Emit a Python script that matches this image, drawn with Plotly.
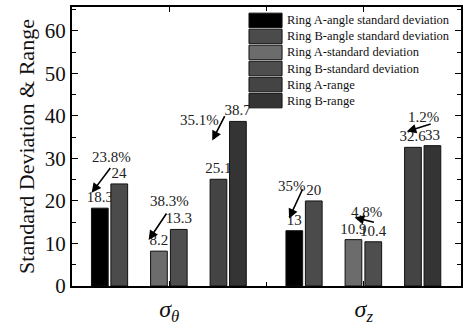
import plotly.graph_objects as go

# Categories (numeric positions 0 and 1 on the x axis) and their tick labels
categories = [0, 1]
tick_labels = ["<i>σ</i><sub><i>θ</i></sub>", "<i>σ</i><sub><i>z</i></sub>"]

series_names = [
    "Ring A-angle standard deviation",
    "Ring B-angle standard deviation",
    "Ring A-standard deviation",
    "Ring B-standard deviation",
    "Ring A-range",
    "Ring B-range",
]
ring_a_angle_std = [18.3, 13]
ring_b_angle_std = [24, 20]
ring_a_std = [8.2, 10.9]
ring_b_std = [13.3, 10.4]
ring_a_range = [25.1, 32.6]
ring_b_range = [38.7, 33]
series_values = [ring_a_angle_std, ring_b_angle_std, ring_a_std,
                 ring_b_std, ring_a_range, ring_b_range]

# Relative differences between Ring A and Ring B, with arrow (tail -> head) placement
pct_labels = ["23.8%", "38.3%", "35.1%", "35%", "4.8%", "1.2%"]
pct_text_pos = [(-0.297, 30.3), (0.000, 20.0), (0.153, 39.1),
                (0.629, 23.5), (1.012, 17.4), (1.306, 39.7)]
pct_arrows = [((-0.297, 28.1), (-0.399, 21.9)),
              ((-0.009, 17.4), (-0.106, 10.8)),
              ((0.289, 40.3), (0.221, 34.2)),
              ((0.689, 23.1), (0.616, 15.9)),
              ((1.060, 14.9), (0.953, 16.1)),
              ((1.352, 38.2), (1.221, 36.3))]

colors = ["#000000", "#4b4b4b", "#6c6c6c", "#4e4e4e", "#444444", "#343434"]
bar_w = 0.086
offsets = [-0.400, -0.300, -0.096, 0.006, 0.210, 0.310]

FONT = "Liberation Serif, Times New Roman, serif"

fig = go.Figure()
for name, vals, col, off in zip(series_names, series_values, colors, offsets):
    fig.add_trace(go.Bar(
        x=categories, y=vals, name=name,
        width=bar_w, offset=off,
        marker=dict(color=col, line=dict(color="#111111", width=1)),
        texttemplate="%{y}", textposition="outside",
        textfont=dict(family=FONT, size=15, color="#222222"),
        constraintext="none", cliponaxis=False,
        showlegend=False,
    ))

annotations = []
for txt, (tx, ty) in zip(pct_labels, pct_text_pos):
    annotations.append(dict(x=tx, y=ty, xref="x", yref="y", text=txt,
                            showarrow=False,
                            font=dict(family=FONT, size=15, color="#222222")))
for (tail, head) in pct_arrows:
    annotations.append(dict(x=head[0], y=head[1], ax=tail[0], ay=tail[1],
                            xref="x", yref="y", axref="x", ayref="y",
                            text="", showarrow=True, arrowhead=2,
                            arrowsize=1.2, arrowwidth=1.6, arrowcolor="#000000",
                            standoff=0, startstandoff=0))

# Legend drawn as swatches plus labels in the upper right corner
shapes = []
L_X0, L_X1 = 0.455, 0.540
row_top = 0.998
row_h = 0.0575
sw_h = 0.052
for i, (name, col) in enumerate(zip(series_names, colors)):
    y1 = row_top - 0.02 - i * row_h
    y0 = y1 - sw_h
    shapes.append(dict(type="rect", xref="paper", yref="paper",
                       x0=L_X0, x1=L_X1, y0=y0, y1=y1,
                       fillcolor=col, line=dict(color="#111111", width=1)))
    annotations.append(dict(x=L_X1 + 0.008, y=(y0 + y1) / 2, xref="paper", yref="paper",
                            text=name, showarrow=False, xanchor="left", yanchor="middle",
                            font=dict(family=FONT, size=12.5, color="#111111")))

fig.update_layout(
    width=467, height=330,
    margin=dict(l=72, r=4, t=7, b=33),
    paper_bgcolor="white", plot_bgcolor="white",
    barmode="overlay",
    font=dict(family=FONT, color="#111111"),
    annotations=annotations, shapes=shapes,
)
fig.update_xaxes(
    range=[-0.5, 1.5], tickvals=categories, ticktext=tick_labels,
    tickfont=dict(family=FONT, size=24, color="#111111"),
    ticks="inside", ticklen=5, tickwidth=1, tickcolor="#000000",
    minor=dict(tickvals=[0.5], ticks="inside", ticklen=4, tickcolor="#000000"),
    showline=True, linewidth=2, linecolor="#000000", mirror="ticks",
    showgrid=False, zeroline=False,
)
fig.update_yaxes(
    range=[0, 65.6], tickvals=[0, 10, 20, 30, 40, 50, 60],
    tickfont=dict(family=FONT, size=21, color="#111111"),
    ticks="inside", ticklen=6, tickwidth=1, tickcolor="#000000",
    minor=dict(dtick=5, ticks="inside", ticklen=4, tickcolor="#000000"),
    showline=True, linewidth=2, linecolor="#000000", mirror="ticks",
    showgrid=False, zeroline=False,
    title=dict(text="Standard Deviation & Range",
               font=dict(family=FONT, size=22, color="#111111"), standoff=4),
)

fig.write_html("out.html")
